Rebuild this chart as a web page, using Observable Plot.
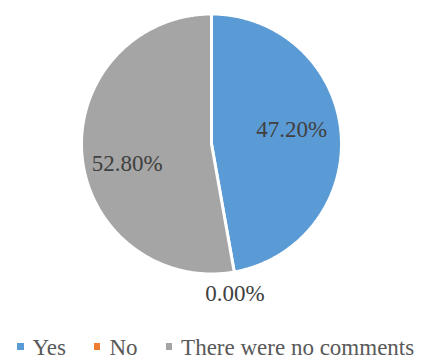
<!DOCTYPE html>
<html><head><meta charset="utf-8">
<script src="https://cdn.jsdelivr.net/npm/d3@7"></script>
<script src="https://cdn.jsdelivr.net/npm/@observablehq/plot@0.6"></script>
<style>
body{margin:0;background:#fff;}
#wrap{position:relative;width:422px;height:361px;font-family:'Liberation Serif','Times New Roman',Tinos,'DejaVu Serif',serif;}
#legend{position:absolute;left:17px;top:335px;display:flex;align-items:center;font-size:23px;line-height:26px;color:#595959;white-space:nowrap;}
#legend .item{display:flex;align-items:center;margin-right:28px;}
#legend .sw{width:6.5px;height:6.5px;margin-right:9px;position:relative;top:-1.5px;}
#chart svg text{font-family:'Liberation Serif','Times New Roman',Tinos,'DejaVu Serif',serif !important;}
</style></head>
<body><div id="wrap"><div id="chart"></div><div id="legend"></div></div>
<script>
const categories = ["Yes", "No", "There were no comments"];
const values = [47.20, 0.00, 52.80];
const labels = ["47.20%", "0.00%", "52.80%"];
const colors = ["#5B9BD5", "#ED7D31", "#A5A5A5"];

const W = 422, H = 320, CX = 211, CY = 143.5, RPX = 130;
const arcs = d3.pie().sort(null).value((d, i) => values[i])(categories);

// polygon vertices in unit coordinates (radius 1), angles clockwise from top
const pts = [];
arcs.forEach((a, i) => {
  if (a.endAngle - a.startAngle <= 0) return;
  const n = Math.max(2, Math.ceil((a.endAngle - a.startAngle) / (Math.PI / 360)));
  pts.push({cat: categories[i], x: 0, y: 0});
  for (let k = 0; k <= n; k++) {
    const t = a.startAngle + (a.endAngle - a.startAngle) * k / n;
    pts.push({cat: categories[i], x: Math.sin(t), y: Math.cos(t)});
  }
  pts.push({cat: categories[i], x: 0, y: 0});
});

// label positions along mid-angle (layout factors, not data)
const labelR = [0.62, 1.16, 0.65];
const labelDy = [-7.5, 1.5, 12];
const labelDx = [0, -3, 0];
const lab = arcs.map((a, i) => {
  const m = (a.startAngle + a.endAngle) / 2;
  return {i, cat: categories[i], label: labels[i], x: labelR[i] * Math.sin(m), y: labelR[i] * Math.cos(m)};
});

const textMarks = lab.map(d => Plot.text([d], {
  x: "x", y: "y", text: "label", fill: "#404040", fontSize: 23,
  dy: labelDy[d.i], dx: labelDx[d.i]
}));

const chart = Plot.plot({
  width: W, height: H,
  margin: 0,
  x: {domain: [-CX / RPX, (W - CX) / RPX], axis: null},
  y: {domain: [-(H - CY) / RPX, CY / RPX], axis: null},
  color: {domain: categories, range: colors},
  style: {background: "white", overflow: "visible", fontFamily: "'Liberation Serif','Times New Roman',serif"},
  marks: [
    Plot.line(pts, {x: "x", y: "y", z: "cat", fill: "cat", stroke: "white", strokeWidth: 3, strokeLinejoin: "round", curve: "linear"}),
    ...textMarks
  ]
});
document.getElementById("chart").appendChild(chart);

const leg = document.getElementById("legend");
categories.forEach((c, i) => {
  const it = document.createElement("div");
  it.className = "item";
  const sw = document.createElement("span");
  sw.className = "sw";
  sw.style.background = colors[i];
  const tx = document.createElement("span");
  tx.textContent = c;
  it.appendChild(sw); it.appendChild(tx);
  leg.appendChild(it);
});
</script>
</body></html>
